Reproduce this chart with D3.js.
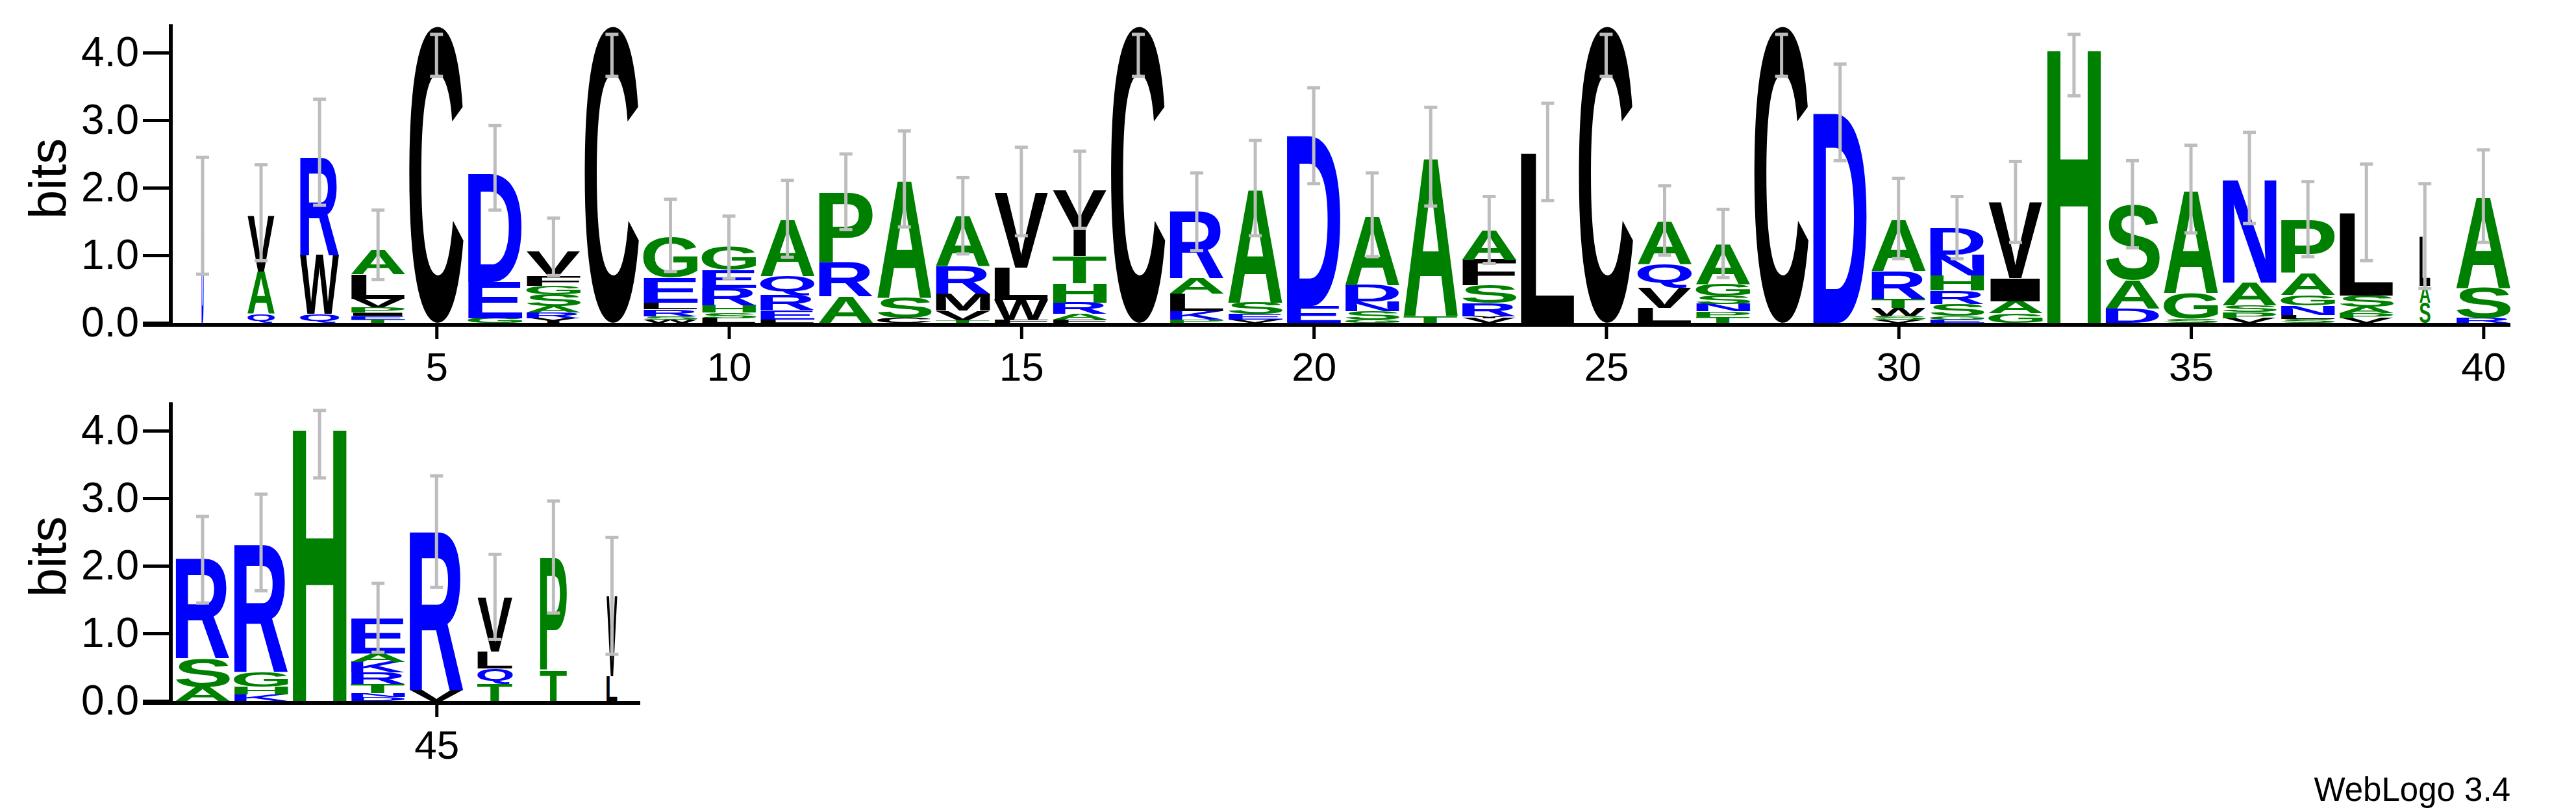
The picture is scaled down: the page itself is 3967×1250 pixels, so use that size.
<!DOCTYPE html>
<html>
<head>
<meta charset="utf-8">
<script src="https://cdn.jsdelivr.net/npm/d3@7"></script>
<style>
  body { margin: 0; background: #fff; }
  text { font-family: "Liberation Sans", Arial, sans-serif; }
</style>
</head>
<body>
<svg id="logo" width="3967" height="1250"></svg>
<script>
// stacks, bottom -> top
const stackLetters = [
  "D", "QAV", "QWR", "TEIPVLA", "C", "GED", "YRASGFV", "C", "WSRLEG", "LSHREG",
  "LERQA", "ARP", "CSA", "TVMRA", "FWLV", "FARHTY", "C", "PKLAR", "VESA", "ED",
  "GSNDA", "TA", "VYRSFA", "L", "C", "LVQA", "TPNSGA", "C", "D", "VSWTRA",
  "EGSRHND", "GAIV", "H", "DAS", "SGA", "VPSAN", "SLNGAP", "VPASL", "SAL", "RSA",
  "ASR", "KHGR", "H", "DNTRKAE", "VR", "TQLV", "TP", "LV"
];
const stackHeights = [
  [1.57], [0.13, 0.63, 0.83], [0.13, 0.87, 1.44], [0.05, 0.05, 0.05, 0.08, 0.13, 0.36, 0.36],
  [4.39], [0.07, 0.54, 1.6], [0.07, 0.08, 0.1, 0.17, 0.13, 0.15, 0.35], [4.39],
  [0.05, 0.05, 0.1, 0.1, 0.37, 0.6], [0.07, 0.08, 0.11, 0.26, 0.26, 0.34],
  [0.05, 0.14, 0.22, 0.28, 0.84], [0.39, 0.5, 1.04], [0.07, 0.3, 1.75],
  [0.04, 0.14, 0.25, 0.41, 0.75], [0.05, 0.29, 0.48, 1.11], [0.05, 0.08, 0.17, 0.29, 0.4, 0.97],
  [4.39], [0.05, 0.12, 0.26, 0.23, 0.99], [0.05, 0.08, 0.17, 1.69], [0.25, 2.52],
  [0.05, 0.12, 0.15, 0.24, 1.03], [0.1, 2.36], [0.07, 0.03, 0.19, 0.26, 0.38, 0.44], [2.51],
  [4.39], [0.22, 0.3, 0.35, 0.64], [0.09, 0.08, 0.11, 0.12, 0.17, 0.6], [4.39], [3.1],
  [0.05, 0.06, 0.11, 0.14, 0.41, 0.76], [0.05, 0.05, 0.18, 0.2, 0.22, 0.31, 0.39],
  [0.14, 0.18, 0.34, 1.12], [4.09], [0.21, 0.43, 1.12], [0.06, 0.38, 1.53],
  [0.07, 0.09, 0.1, 0.34, 1.54], [0.06, 0.06, 0.14, 0.15, 0.33, 0.79],
  [0.07, 0.07, 0.1, 0.16, 1.22], [0.3, 0.25, 0.73], [0.07, 0.45, 1.35],
  [0.21, 0.42, 1.46], [0.1, 0.11, 0.22, 1.88], [4.07], [0.06, 0.06, 0.13, 0.17, 0.16, 0.12, 0.52],
  [0.16, 2.34], [0.25, 0.23, 0.25, 0.8], [0.45, 1.68], [0.37, 1.18]
];
// column width as a fraction (gapped columns are narrower)
const stackWidths = [
  0.04, 0.5, 0.72, 1, 1, 1, 1, 1, 1, 1, 1, 1, 1, 1, 1, 1, 1, 1, 1, 1,
  1, 1, 1, 1, 1, 1, 1, 1, 1, 1, 1, 1, 1, 1, 1, 1, 1, 1, 0.2, 1,
  1, 1, 1, 1, 1, 0.65, 0.5, 0.2
];
const errLow = [
  0.72, 0.92, 1.74, 0.64, 3.65, 1.67, 0.7, 3.65, 0.76, 0.66,
  0.97, 1.38, 1.42, 1.02, 1.29, 1.4, 3.65, 1.07, 1.29, 2.06,
  0.98, 1.73, 0.88, 1.81, 3.65, 1.0, 0.67, 3.65, 2.4, 0.95,
  0.95, 1.19, 3.36, 1.11, 1.33, 1.47, 0.98, 0.92, 0.51, 1.19,
  1.45, 1.63, 3.3, 0.72, 1.68, 0.91, 1.3, 0.69
];
const errHigh = [
  2.45, 2.34, 3.31, 1.67, 4.27, 2.92, 1.55, 4.27, 1.83, 1.58,
  2.11, 2.5, 2.84, 2.15, 2.6, 2.54, 4.27, 2.22, 2.7, 3.48,
  2.22, 3.19, 1.87, 3.25, 4.27, 2.03, 1.68, 4.27, 3.83, 2.14,
  1.87, 2.39, 4.27, 2.4, 2.63, 2.82, 2.09, 2.35, 2.06, 2.56,
  2.73, 3.06, 4.3, 1.74, 3.33, 2.17, 2.96, 2.42
];
const yTicks = [0, 1, 2, 3, 4];
const perRow = 40;

const colors = {};
"RKDENQ".split("").forEach(c => colors[c] = "#0000ff");
"AGSTPH".split("").forEach(c => colors[c] = "#008000");
"CVLIMFWY".split("").forEach(c => colors[c] = "#000000");

const svg = d3.select("#logo");
const colW = 84;
const step = 90.06;

// tight glyph boxes from canvas
const ctx = document.createElement("canvas").getContext("2d");
const glyphFont = "bold 100px 'Liberation Sans'";
ctx.font = glyphFont;
const glyphBox = {};
const boxOf = ch => {
  if (!glyphBox[ch]) {
    const m = ctx.measureText(ch);
    glyphBox[ch] = { l: -m.actualBoundingBoxLeft, r: m.actualBoundingBoxRight,
                     t: -m.actualBoundingBoxAscent, b: m.actualBoundingBoxDescent };
  }
  return glyphBox[ch];
};

const panels = [
  { first: 1, last: 40, base: 500, axisEnd: 3866 },
  { first: 41, last: 48, base: 1082, axisEnd: 986 }
];

panels.forEach(p => {
  const g = svg.append("g");
  const x = d3.scaleLinear().domain([p.first, p.first + 1]).range([312, 312 + step]);
  const y = d3.scaleLinear().domain([0, 4]).range([p.base - 3, p.base - 3 - 4 * 104]);

  // y axis
  const yAxis = g.append("g").attr("transform", "translate(263,0)");
  yAxis.call(d3.axisLeft(y).tickValues(d3.range(0, 4.01, 0.2)).tickSize(22).tickFormat(""));
  yAxis.call(d3.axisLeft(y).tickValues(yTicks).tickSize(43).tickFormat(d3.format(".1f")).tickPadding(6));
  yAxis.selectAll(".domain").remove();
  yAxis.selectAll("line").attr("stroke", "#000").attr("stroke-width", 5);
  yAxis.selectAll("text").attr("font-size", 64).attr("fill", "#000")
    .attr("font-family", "'Liberation Sans', Arial, sans-serif");
  g.append("line").attr("x1", 263).attr("x2", 263)
    .attr("y1", p.base + 2).attr("y2", y(4.42)).attr("stroke", "#000").attr("stroke-width", 6);

  // x axis
  const positions = d3.range(p.first, p.last + 1);
  const xAxis = g.append("g").attr("transform", `translate(0,${p.base})`);
  xAxis.call(d3.axisBottom(x).tickValues(positions.filter(d => d % 5 !== 0)).tickSize(11).tickFormat(""));
  xAxis.call(d3.axisBottom(x).tickValues(positions.filter(d => d % 5 === 0)).tickSize(22).tickPadding(20).tickFormat(d3.format("d")));
  xAxis.selectAll(".domain").remove();
  xAxis.selectAll("line").attr("stroke", "#000").attr("stroke-width", 5);
  xAxis.selectAll("text").attr("font-size", 62).attr("fill", "#000")
    .attr("font-family", "'Liberation Sans', Arial, sans-serif");
  g.append("line").attr("x1", 220).attr("x2", p.axisEnd)
    .attr("y1", p.base).attr("y2", p.base).attr("stroke", "#000").attr("stroke-width", 6);

  g.append("text").text("bits")
    .attr("transform", `translate(101,${p.base - 225}) rotate(-90)`)
    .attr("text-anchor", "middle").attr("font-size", 80).attr("fill", "#000");

  // stacks
  positions.forEach(pos => {
    const i = pos - 1;
    const w = colW * stackWidths[i];
    const x0 = x(pos) - w / 2;
    let acc = 0;
    stackLetters[i].split("").forEach((ch, k) => {
      const h = stackHeights[i][k];
      const top = y(acc + h), bot = y(acc);
      acc += h;
      const bb = boxOf(ch);
      const sx = w / (bb.r - bb.l), sy = (bot - top) / (bb.b - bb.t);
      g.append("text").text(ch)
        .attr("font-family", "'Liberation Sans', Arial, sans-serif")
        .attr("font-weight", "bold").attr("font-size", 100)
        .attr("fill", colors[ch])
        .attr("transform", `translate(${x0},${top}) scale(${sx},${sy}) translate(${-bb.l},${-bb.t})`);
    });
    // error bar
    const eb = g.append("g").attr("stroke", "#bdbdbd").attr("stroke-width", 5);
    eb.append("line").attr("x1", x(pos)).attr("x2", x(pos)).attr("y1", y(errLow[i])).attr("y2", y(errHigh[i]));
    [errLow[i], errHigh[i]].forEach(v =>
      eb.append("line").attr("x1", x(pos) - 10).attr("x2", x(pos) + 10).attr("y1", y(v)).attr("y2", y(v)));
  });
});

svg.append("text").text("WebLogo 3.4")
  .attr("x", 3866).attr("y", 1233).attr("text-anchor", "end")
  .attr("font-size", 51).attr("fill", "#000");
</script>
</body>
</html>
